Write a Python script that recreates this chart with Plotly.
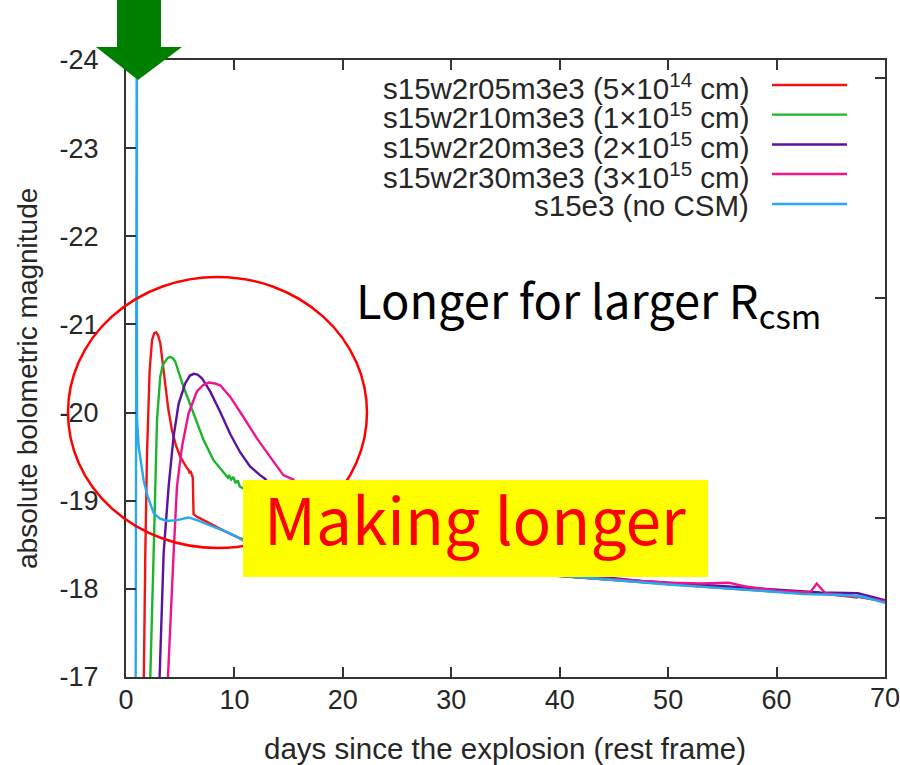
import plotly.graph_objects as go

# Light curves: days since explosion (rest frame) vs absolute bolometric magnitude
r05_days = [1.55, 1.63, 1.78, 1.94, 2.18, 2.40, 2.60, 2.77, 2.95, 3.16, 3.40, 3.62, 3.90, 4.24,
            4.60, 5.00, 5.30, 5.62, 5.78, 5.86, 5.95, 6.08, 6.16, 6.23, 6.50, 6.84, 7.76, 9.00,
            10.22, 12.0, 15.0, 20.0, 25.0, 30.0, 35.0, 41.6, 45.0, 50.0, 53.0, 56.0, 60.0, 64.0, 67.5]
r05_mag = [-16.0, -17.0, -18.40, -19.54, -20.48, -20.82, -20.90, -20.91, -20.88, -20.79, -20.56,
           -20.29, -20.04, -19.80, -19.63, -19.50, -19.43, -19.37, -19.35, -19.31, -19.34, -19.27,
           -19.26, -18.85, -18.82, -18.80, -18.74, -18.66, -18.59, -18.50, -18.42, -18.36, -18.30,
           -18.24, -18.19, -18.13, -18.10, -18.05, -18.03, -18.00, -17.97, -17.95, -17.90]

r10_days = [2.15, 2.24, 2.55, 2.86, 3.16, 3.40, 3.62, 3.85, 4.08, 4.30, 4.54, 5.31, 6.23, 7.15,
            8.07, 8.68, 9.20, 9.40, 9.50, 9.70, 9.90, 10.10, 10.30, 10.50, 10.83, 12.0, 14.0,
            16.0, 20.0, 25.0, 30.0, 35.0, 41.6, 45.0, 50.0, 55.0, 60.0, 64.0, 67.0, 70.0]
r10_mag = [-16.0, -17.0, -18.41, -19.92, -20.41, -20.54, -20.58, -20.62, -20.63, -20.62, -20.58,
           -20.29, -19.99, -19.69, -19.46, -19.37, -19.30, -19.26, -19.29, -19.24, -19.27, -19.20,
           -19.23, -19.16, -19.14, -18.95, -18.70, -18.52, -18.40, -18.32, -18.26, -18.20, -18.13,
           -18.10, -18.06, -18.01, -17.97, -17.95, -17.92, -17.86]

r20_days = [3.00, 3.10, 3.47, 3.93, 4.39, 4.85, 5.46, 5.90, 6.25, 6.60, 7.00, 7.76, 8.68, 9.60,
            10.52, 11.44, 12.36, 12.82, 14.0, 16.0, 18.0, 20.0, 25.0, 30.0, 35.0, 41.6, 45.0,
            47.5, 50.0, 53.0, 56.0, 60.0, 64.0, 67.5, 70.0]
r20_mag = [-16.0, -17.0, -18.40, -19.16, -19.73, -20.10, -20.33, -20.42, -20.44, -20.43, -20.39,
           -20.24, -20.01, -19.76, -19.55, -19.39, -19.29, -19.25, -19.05, -18.75, -18.55, -18.43,
           -18.33, -18.27, -18.21, -18.14, -18.12, -18.09, -18.07, -18.05, -18.03, -17.99, -17.96,
           -17.95, -17.87]

r30_days = [3.80, 3.87, 4.39, 4.70, 5.16, 5.77, 6.54, 7.10, 7.67, 8.20, 8.68, 9.60, 10.83, 12.06,
            13.28, 14.51, 15.43, 17.0, 19.0, 22.0, 26.0, 30.0, 35.0, 41.6, 45.0, 47.5, 50.0, 53.0,
            55.6, 57.0, 60.0, 63.1, 63.7, 64.5, 67.0, 70.0]
r30_mag = [-16.0, -17.0, -18.40, -19.16, -19.61, -19.99, -20.24, -20.31, -20.34, -20.33, -20.31,
           -20.18, -19.95, -19.71, -19.50, -19.29, -19.24, -18.95, -18.65, -18.45, -18.34, -18.27,
           -18.21, -18.13, -18.11, -18.09, -18.07, -18.06, -18.07, -18.03, -17.98, -17.96, -18.06,
           -17.95, -17.92, -17.86]

nocsm_days = [0.88, 0.96, 1.00, 1.01, 1.02, 1.17, 1.40, 1.63, 2.00, 2.55, 3.10, 3.78, 4.70, 5.30,
              5.77, 6.54, 7.76, 9.60, 10.8, 13.0, 16.0, 20.0, 25.0, 30.0, 35.0, 41.6, 45.0, 50.0,
              53.1, 56.0, 59.4, 62.5, 66.0, 68.0, 70.0]
nocsm_mag = [-16.0, -25.0, -25.0, -21.0, -19.92, -19.61, -19.40, -19.23, -19.05, -18.86, -18.80,
             -18.77, -18.78, -18.80, -18.81, -18.78, -18.72, -18.63, -18.55, -18.47, -18.42, -18.37,
             -18.31, -18.25, -18.20, -18.13, -18.10, -18.05, -18.02, -18.00, -17.97, -17.94, -17.93,
             -17.91, -17.84]

series_names = [
    "s15w2r05m3e3 (5×10<sup>14</sup> cm)",
    "s15w2r10m3e3 (1×10<sup>15</sup> cm)",
    "s15w2r20m3e3 (2×10<sup>15</sup> cm)",
    "s15w2r30m3e3 (3×10<sup>15</sup> cm)",
    "s15e3 (no CSM)",
]
series_colors = ["#ee1515", "#1cb52c", "#5a12a0", "#f0148c", "#27a9f0"]
series_days = [r05_days, r10_days, r20_days, r30_days, nocsm_days]
series_mags = [r05_mag, r10_mag, r20_mag, r30_mag, nocsm_mag]

x_ticks = [0, 10, 20, 30, 40, 50, 60, 70]
y_ticks = [-24, -23, -22, -21, -20, -19, -18, -17]
y_tick_text = ["-24", "-23", "-22", "-21", "-20", "-19", "-18", "-17"]
y2_ticks = [-23.8, -21.3, -18.8]

# Figure geometry (pixels)
W, H = 900, 765
ML, MR, MT, MB = 126, 15, 60, 88
PW, PH = W - ML - MR, H - MT - MB


def px(xp):
    return (xp - ML) / PW


def py(yp):
    return (H - MB - yp) / PH


fig = go.Figure()
for name, color, d, m in zip(series_names, series_colors, series_days, series_mags):
    fig.add_trace(go.Scatter(x=d, y=m, mode="lines", name=name, showlegend=False,
                             line=dict(color=color, width=2.4)))

# second y axis only carries the right-hand tick marks
fig.add_trace(go.Scatter(x=[None], y=[None], yaxis="y2", showlegend=False, hoverinfo="skip"))

SANS = "Liberation Sans, Arial, sans-serif"
axis_font = dict(family=SANS, size=27, color="#262626")
frame = "#333333"

fig.update_layout(
    width=W, height=H,
    margin=dict(l=ML, r=MR, t=MT, b=MB, autoexpand=False),
    paper_bgcolor="white", plot_bgcolor="white",
    showlegend=False,
    xaxis=dict(range=[0, 70], tickvals=x_ticks, ticks="inside", ticklen=10, tickwidth=2,
               tickcolor=frame, showline=True, linecolor=frame, linewidth=2, mirror="ticks",
               showgrid=False, zeroline=False, tickfont=axis_font, ticklabelstandoff=-2,
               automargin=False),
    yaxis=dict(range=[-17, -24], tickvals=y_ticks, ticktext=y_tick_text, ticks="inside",
               ticklen=10, tickwidth=2, tickcolor=frame, showline=True, linecolor=frame,
               linewidth=2, mirror=True, showgrid=False, zeroline=False, tickfont=axis_font,
               ticklabelstandoff=20, automargin=False),
    yaxis2=dict(range=[-17, -24], overlaying="y", side="right", tickvals=y2_ticks,
                ticks="inside", ticklen=10, tickwidth=2, tickcolor=frame, showticklabels=False,
                showline=False, showgrid=False, zeroline=False, automargin=False),
)

shapes = []
annotations = []

# last x tick label runs off the page edge, so it is placed by hand
annotations.append(dict(text=str(x_ticks[-1]), xref="x", yref="paper", x=x_ticks[-1], y=py(698),
                        xanchor="center", yanchor="middle", showarrow=False, font=axis_font))

# legend keys, drawn gnuplot-style: label on the left, sample line on the right
legend_rows = [85, 114.6, 144.5, 174, 204]
for name, color, yrow in zip(series_names, series_colors, legend_rows):
    shapes.append(dict(type="line", xref="paper", yref="paper", x0=px(772), x1=px(847),
                       y0=py(yrow), y1=py(yrow), line=dict(color=color, width=2.4)))
    annotations.append(dict(text=name, xref="paper", yref="paper", x=px(751), y=py(yrow + 1),
                            xanchor="right", yanchor="middle", showarrow=False,
                            font=dict(family=SANS, size=29.5, color="#262626")))

# axis titles
annotations.append(dict(text="days since the explosion (rest frame)", xref="paper", yref="paper",
                        x=px(505), y=py(748), xanchor="center", yanchor="middle", showarrow=False,
                        font=dict(family=SANS, size=29.5, color="#262626")))
annotations.append(dict(text="absolute bolometric magnitude", xref="paper", yref="paper",
                        x=px(27), y=py(379), xanchor="center", yanchor="middle", textangle=-90,
                        showarrow=False, font=dict(family=SANS, size=28, color="#262626")))

# highlight ellipse around the early peaks
shapes.append(dict(type="circle", xref="paper", yref="paper", x0=px(68), x1=px(367),
                   y0=py(548), y1=py(277), line=dict(color="#ff0000", width=2.5), layer="above"))

# green arrow marking shock breakout
arrow_pts = [(117, 0), (161, 0), (161, 47), (182, 47), (138, 80), (96, 47), (117, 47)]
path = "M " + " L ".join(f"{px(a):.5f},{py(b):.5f}" for a, b in arrow_pts) + " Z"
shapes.append(dict(type="path", xref="paper", yref="paper", path=path, fillcolor="#008000",
                   line=dict(width=0), layer="above"))

# yellow label box
shapes.append(dict(type="rect", xref="paper", yref="paper", x0=px(243), x1=px(708),
                   y0=py(577), y1=py(480), fillcolor="#ffff00", line=dict(width=0), layer="above"))
annotations.append(dict(text="Making longer", xref="paper", yref="paper", x=px(475), y=py(517),
                        xanchor="center", yanchor="middle", showarrow=False,
                        font=dict(family="Noto Sans CJK JP, Noto Sans, sans-serif", size=64,
                                  color="#ff0000")))

annotations.append(dict(text="Longer for larger R<sub>csm</sub>", xref="paper", yref="paper",
                        x=px(354), y=py(301), xanchor="left", yanchor="middle", showarrow=False,
                        font=dict(family="Noto Sans CJK JP, Noto Sans, sans-serif", size=47,
                                  color="#000000")))

fig.update_layout(shapes=shapes, annotations=annotations)
fig.write_html("out.html")
